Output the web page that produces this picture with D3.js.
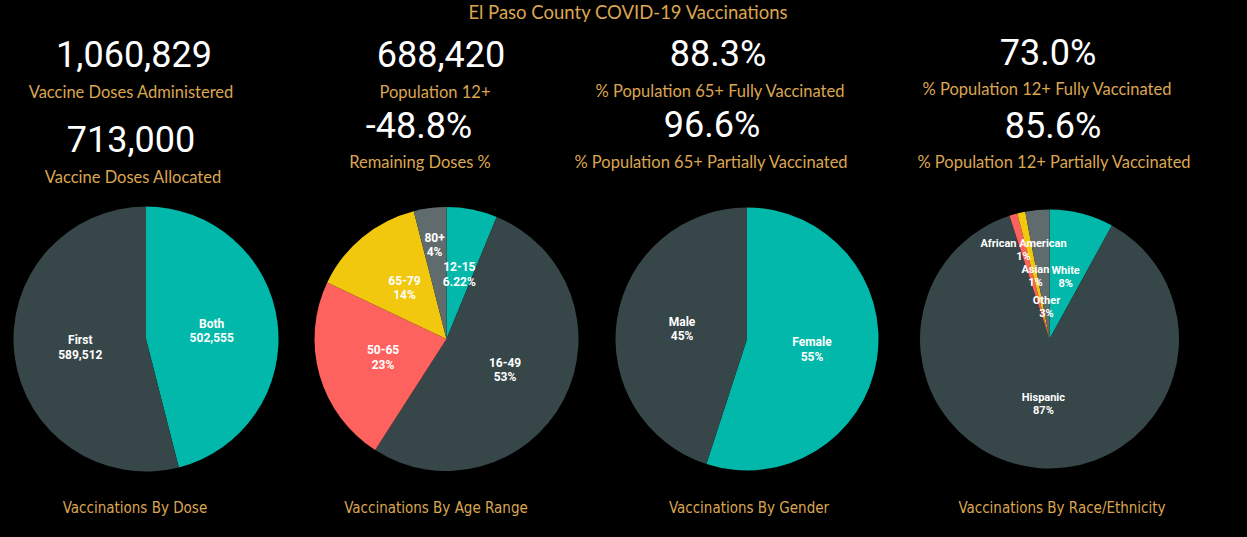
<!DOCTYPE html>
<html>
<head>
<meta charset="utf-8">
<script src="https://cdn.jsdelivr.net/npm/d3@7"></script>
<style>
  html, body { margin: 0; padding: 0; background: #000; }
  svg { display: block; }
</style>
</head>
<body>
<script>
// El Paso County COVID-19 vaccinations dashboard

const title = "El Paso County COVID-19 Vaccinations";

// kpi cards (value + caption)
const kpiValues = ["1,060,829", "713,000", "688,420", "-48.8%", "88.3%", "96.6%", "73.0%", "85.6%"];
const kpiLabels = ["Vaccine Doses Administered", "Vaccine Doses Allocated", "Population 12+", "Remaining Doses %",
  "% Population 65+ Fully Vaccinated", "% Population 65+ Partially Vaccinated",
  "% Population 12+ Fully Vaccinated", "% Population 12+ Partially Vaccinated"];

// pies
const doseLabels = ["Both", "First"];
const doseValues = [502555, 589512];
const ageLabels = ["12-15", "16-49", "50-65", "65-79", "80+"];
const ageValues = [6.22, 53, 23, 14, 4];
const genderLabels = ["Female", "Male"];
const genderValues = [55, 45];
const raceLabels = ["White", "Hispanic", "African American", "Asian", "Other"];
const raceValues = [8, 87, 1, 1, 3];
const pieTitles = ["Vaccinations By Dose", "Vaccinations By Age Range", "Vaccinations By Gender", "Vaccinations By Race/Ethnicity"];

const W = 1247, H = 537;
const gold = "#DCA651";
const palette = ["#01B8AA", "#374649", "#FD625E", "#F2C80F", "#5F6B6D"];

const svg = d3.select("body").append("svg").attr("width", W).attr("height", H);
svg.append("rect").attr("width", W).attr("height", H).attr("fill", "#000");

svg.append("text")
  .attr("x", 628).attr("y", 19)
  .attr("text-anchor", "middle")
  .attr("fill", gold)
  .style("font-family", "'Segoe UI', Lato, sans-serif")
  .style("font-size", "18.5px")
  .text(title);

// card layout: [center x of value, value baseline, center x of caption, caption baseline]
const cardPos = [
  [134, 67, 131, 98], [131, 152, 133, 183],
  [441, 67, 435, 98], [419, 138, 420, 168],
  [718, 66, 720, 97], [712, 137, 711, 168],
  [1048, 65, 1047, 95], [1053, 138, 1054, 168]
];

const cards = svg.append("g");
kpiValues.forEach((v, i) => {
  const p = cardPos[i];
  cards.append("text")
    .attr("x", p[0]).attr("y", p[1])
    .attr("text-anchor", "middle")
    .attr("fill", "#fff")
    .style("font-family", "Roboto, sans-serif")
    .style("font-size", "36px")
    .text(v);
  cards.append("text")
    .attr("x", p[2]).attr("y", p[3])
    .attr("text-anchor", "middle")
    .attr("fill", gold)
    .style("font-family", "'Segoe UI', Lato, sans-serif")
    .style("font-size", "16.5px")
    .text(kpiLabels[i]);
});

const fmtComma = d3.format(",");
const fmtPct = v => (+v.toFixed(2)) + "%";

const pies = [
  {labels: doseLabels, values: doseValues, fmt: fmtComma, cx: 146, r: 132.5, fs: 12},
  {labels: ageLabels, values: ageValues, fmt: fmtPct, cx: 446.5, r: 132, fs: 12},
  {labels: genderLabels, values: genderValues, fmt: fmtPct, cx: 747, r: 131.5, fs: 12},
  {labels: raceLabels, values: raceValues, fmt: fmtPct, cx: 1049.5, r: 129.5, fs: 11}
];
const cy = 339;

const pie = d3.pie().sort(null).value(d => d.value);

function overlaps(a, b) {
  const pad = 2;
  return a.x + pad < b.x + b.width - pad && b.x + pad < a.x + a.width - pad &&
         a.y + pad < b.y + b.height - pad && b.y + pad < a.y + a.height - pad;
}

pies.forEach((cfg, k) => {
  const data = cfg.labels.map((l, i) => ({label: l, value: cfg.values[i]}));
  const arcs = pie(data);
  const arc = d3.arc().innerRadius(0).outerRadius(cfg.r);
  const g = svg.append("g").attr("transform", `translate(${cfg.cx},${cy})`);

  g.selectAll("path").data(arcs).join("path")
    .attr("d", arc)
    .attr("fill", (d, i) => palette[i]);

  // data labels, nudged along the radius when they collide
  const placed = [];
  const gap = cfg.fs * 1.2;
  arcs.forEach(a => {
    const t = g.append("text")
      .attr("text-anchor", "middle")
      .attr("fill", "#fff")
      .style("font-family", "Roboto, sans-serif")
      .style("font-weight", "bold")
      .style("font-size", cfg.fs + "px");
    t.append("tspan").attr("x", 0).attr("y", -gap / 2 + cfg.fs * 0.35).text(a.data.label);
    t.append("tspan").attr("x", 0).attr("y", gap / 2 + cfg.fs * 0.35).text(cfg.fmt(a.data.value));
    const mid = (a.startAngle + a.endAngle) / 2;
    const bb = t.node().getBBox();
    let box;
    for (const f of [0.5, 0.72, 0.25]) {
      const x = Math.sin(mid) * cfg.r * f, y = -Math.cos(mid) * cfg.r * f;
      box = {x: bb.x + x, y: bb.y + y, width: bb.width, height: bb.height};
      t.attr("transform", `translate(${x},${y})`);
      if (!placed.some(p => overlaps(p, box))) break;
    }
    placed.push(box);
  });

  svg.append("text")
    .attr("x", [135, 436, 749, 1062][k]).attr("y", 513)
    .attr("text-anchor", "middle")
    .attr("fill", gold)
    .style("font-family", "'Liberation Sans Narrow', 'DejaVu Sans Condensed', sans-serif")
    .style("font-size", "15px")
    .text(pieTitles[k]);
});
</script>
</body>
</html>
